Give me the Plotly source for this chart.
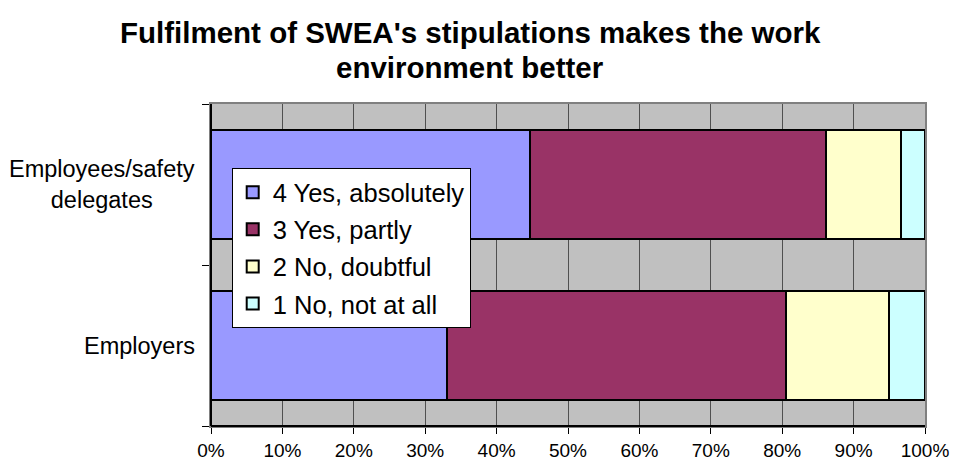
import plotly.graph_objects as go

categories = ["Employers", "Employees/safety delegates"]
series_names = ["4 Yes, absolutely", "3 Yes, partly", "2 No, doubtful", "1 No, not at all"]
yes_absolutely = [33.1, 44.7]
yes_partly = [47.4, 41.5]
no_doubtful = [14.5, 10.4]
no_not_at_all = [5.0, 3.4]
x_ticks = [0, 10, 20, 30, 40, 50, 60, 70, 80, 90, 100]
x_tick_labels = [f"{v}%" for v in x_ticks]
title_lines = ["Fulfilment of SWEA's stipulations makes the work", "environment better"]
y_label_text = ["Employers", "Employees/safety<br>delegates"]

colors = ["#9999FF", "#993366", "#FFFFCC", "#CCFFFF"]
values = [yes_absolutely, yes_partly, no_doubtful, no_not_at_all]

FONT = "Liberation Sans, Arial, sans-serif"

fig = go.Figure()
for i, (name, vals) in enumerate(zip(series_names, values)):
    fig.add_trace(go.Bar(
        y=categories, x=vals, name=name, orientation="h",
        marker=dict(color=colors[i], line=dict(color="black", width=2)),
        legendgroup=f"g{i}", hoverinfo="skip",
    ))

fig.update_layout(
    barmode="stack",
    bargap=0.32,
    width=954, height=468,
    margin=dict(l=211, r=29, t=104, b=42, autoexpand=False),
    paper_bgcolor="white",
    plot_bgcolor="#C0C0C0",
    font=dict(family=FONT, color="black"),
    legend=dict(
        x=0.029, xanchor="left", y=0.801, yanchor="top",
        bgcolor="white", bordercolor="black", borderwidth=1,
        font=dict(family=FONT, size=25.5, color="black"),
        traceorder="grouped", tracegroupgap=1,
        itemclick=False, itemdoubleclick=False,
    ),
    showlegend=True,
)

fig.update_xaxes(
    range=[0, 100],
    tickvals=x_ticks, ticktext=x_tick_labels,
    showgrid=True, gridcolor="#505050", gridwidth=1,
    ticks="outside", ticklen=6, tickcolor="black", tickwidth=1,
    tickfont=dict(family=FONT, size=19, color="black"),
    showline=True, linecolor="#808080", linewidth=2, mirror=True,
    zeroline=False, fixedrange=True, automargin=False,
)
fig.update_yaxes(
    categoryorder="array", categoryarray=categories,
    showticklabels=False,
    tickson="boundaries", ticks="outside", ticklen=7, tickcolor="black", tickwidth=1,
    showgrid=False,
    showline=True, linecolor="#808080", linewidth=2, mirror=True,
    zeroline=False, fixedrange=True, automargin=False,
)

# dark left and bottom axis lines
fig.add_shape(type="line", xref="paper", yref="paper", x0=0, x1=0, y0=0, y1=1,
              line=dict(color="black", width=2), layer="above")
fig.add_shape(type="line", xref="paper", yref="paper", x0=0, x1=1, y0=0, y1=0,
              line=dict(color="black", width=2), layer="above")

for cat, lab in zip(categories, y_label_text):
    fig.add_annotation(
        x=0, xref="paper", xanchor="right", xshift=-14,
        y=cat, yref="y", yanchor="middle",
        text=lab, showarrow=False, align="center",
        font=dict(family=FONT, size=23.5, color="black"),
    )

# title lines (pixel centres ~32 and ~68 from top; plot spans y 104..426)
for line, ypix in zip(title_lines, [32, 67]):
    fig.add_annotation(
        x=(470 - 211) / 714, xref="paper", xanchor="center",
        y=(426 - ypix) / 322, yref="paper", yanchor="middle",
        text=f"<b>{line}</b>", showarrow=False,
        font=dict(family=FONT, size=29.5, color="black"),
    )

fig.write_html("out.html")
